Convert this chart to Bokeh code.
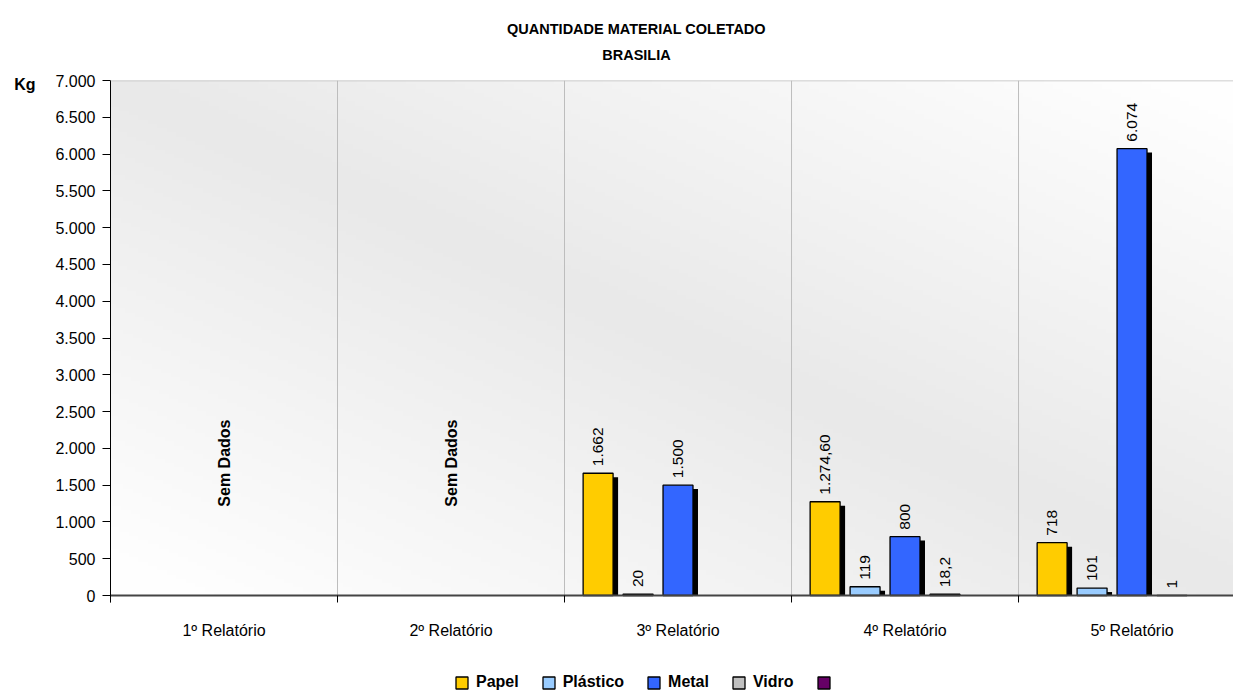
import math
import numpy as np
from bokeh.plotting import figure
from bokeh.models import (Range1d, FixedTicker, ColumnDataSource, Legend,
                          LegendItem, Span, LinearAxis)
from bokeh.core.properties import value
from bokeh.embed import file_html
from bokeh.resources import INLINE

# ---------------- data ----------------
categories = ["1º Relatório", "2º Relatório", "3º Relatório", "4º Relatório", "5º Relatório"]
series_names = ["Papel", "Plástico", "Metal", "Vidro", ""]
series_colors = ["#FFCC00", "#99CCFF", "#3366FF", "#C0C0C0", "#660066"]
nan = float("nan")
papel = [nan, nan, 1662, 1274.6, 718]
plastico = [nan, nan, 20, 119, 101]
metal = [nan, nan, 1500, 800, 6074]
vidro = [nan, nan, nan, 18.2, 1]
serie5 = [nan, nan, nan, nan, nan]
papel_lbl = ["", "", "1.662", "1.274,60", "718"]
plastico_lbl = ["", "", "20", "119", "101"]
metal_lbl = ["", "", "1.500", "800", "6.074"]
vidro_lbl = ["", "", "", "18,2", "1"]
serie5_lbl = ["", "", "", "", ""]
no_data_text = "Sem Dados"
no_data_index = [0, 1]
y_ticks = [0, 500, 1000, 1500, 2000, 2500, 3000, 3500, 4000, 4500, 5000, 5500, 6000, 6500, 7000]
y_tick_labels = ["0", "500", "1.000", "1.500", "2.000", "2.500", "3.000", "3.500",
                 "4.000", "4.500", "5.000", "5.500", "6.000", "6.500", "7.000"]
title_lines = ["QUANTIDADE MATERIAL COLETADO", "BRASILIA"]
y_unit = "Kg"

all_values = [papel, plastico, metal, vidro, serie5]
all_labels = [papel_lbl, plastico_lbl, metal_lbl, vidro_lbl, serie5_lbl]

FONT = "Liberation Sans"
YMAX = 7000
YMIN = -1332          # room below the value axis for category names and legend
XEND = 4.947
TITLE_X = 2.317
CAT_LABEL_Y = -476
TICK_LEN = 95

p = figure(width=1233, height=693, x_range=Range1d(0, XEND), y_range=Range1d(YMIN, YMAX),
           output_backend="svg", toolbar_location=None,
           min_border_left=110, min_border_right=0, min_border_top=80, min_border_bottom=0,
           background_fill_color="white", border_fill_color="white",
           outline_line_color=None)
p.xaxis.visible = False
p.xgrid.visible = False
p.ygrid.visible = False

# gradient background of the plot area (style only)
ny, nx = 120, 600
img = np.empty((ny, nx), dtype=np.uint32)
view = img.view(dtype=np.uint8).reshape((ny, nx, 4))
u = np.linspace(0, 1, nx)[None, :]
w = 1 - np.linspace(0, 1, ny)[:, None]   # 0 at top, 1 at bottom (row 0 is bottom)
d = np.abs(u - w)
val = (233 + (254 - 233) * np.clip(d * 1.1, 0, 1)).astype(np.uint8)
view[:, :, 0] = val
view[:, :, 1] = val
view[:, :, 2] = val
view[:, :, 3] = 255
p.image_rgba(image=[img], x=0, y=0, dw=5, dh=YMAX, level="image")

n = len(categories)
bounds_x = list(range(n + 1))

# vertical separators between categories
p.segment(x0=bounds_x[1:], y0=[0] * n, x1=bounds_x[1:], y1=[YMAX] * n,
          line_color="#BDBDBD", line_width=1)

# top border of plot area
p.add_layout(Span(location=YMAX, dimension="width", line_color="#BDBDBD", line_width=1.5))

# bars
spacing = 0.176
bar_w = 0.132
shadow_dx = 0.022
shadow_dy = 54
renderers = []
for i, (vals, lbls, color) in enumerate(zip(all_values, all_labels, series_colors)):
    xs = [k + 0.5 + (i - 2) * spacing for k in range(n)]
    sh_tops = [max(v - shadow_dy, 0) if not math.isnan(v) else nan for v in vals]
    p.vbar(x=[x + shadow_dx for x in xs], top=sh_tops, bottom=0, width=bar_w,
           fill_color="black", line_color=None)
    r = p.vbar(x=xs, top=list(vals), bottom=0, width=bar_w, fill_color=color,
               line_color="black", line_width=1.3)
    renderers.append(r)
    lx, ly, lt = [], [], []
    for x, v, t in zip(xs, vals, lbls):
        if t and not math.isnan(v):
            lx.append(x); ly.append(v); lt.append(t)
    if lx:
        src = ColumnDataSource(dict(x=lx, y=ly, text=lt))
        p.text(x="x", y="y", text="text", source=src, angle=math.pi / 2,
               text_align="left", text_baseline="middle", y_offset=-7,
               text_font=value(FONT), text_font_size="15.5px", text_color="black")

# category axis: line, boundary ticks, names
p.segment(x0=[0], y0=[0], x1=[XEND], y1=[0], line_color="#444444", line_width=2)
p.segment(x0=bounds_x, y0=[0] * (n + 1), x1=bounds_x, y1=[-TICK_LEN] * (n + 1),
          line_color="black", line_width=1)
src_cat = ColumnDataSource(dict(x=[k + 0.5 for k in range(n)], y=[CAT_LABEL_Y] * n,
                                text=categories))
p.text(x="x", y="y", text="text", source=src_cat, text_align="center",
       text_baseline="middle", text_font=value(FONT), text_font_size="16px",
       text_color="black")

# "Sem Dados"
src_nd = ColumnDataSource(dict(x=[k + 0.5 for k in no_data_index],
                               y=[1800] * len(no_data_index),
                               text=[no_data_text] * len(no_data_index)))
p.text(x="x", y="y", text="text", source=src_nd, angle=math.pi / 2,
       text_align="center", text_baseline="middle", text_font=value(FONT),
       text_font_size="16px", text_font_style="bold", text_color="black")

# value axis
yax = p.yaxis[0]
yax.bounds = (-TICK_LEN, YMAX)
yax.ticker = FixedTicker(ticks=y_ticks)
yax.major_label_overrides = {t: l for t, l in zip(y_ticks, y_tick_labels)}
yax.major_tick_out = 8
yax.major_tick_in = 0
yax.minor_tick_out = 0
yax.minor_tick_in = 0
yax.major_label_standoff = 7
yax.axis_line_color = "black"
yax.major_tick_line_color = "black"
yax.major_label_text_font = FONT
yax.major_label_text_font_size = "16px"
yax.major_label_text_color = "black"


def text_axis(ticks, labels, standoff, size, bold):
    ax = LinearAxis(ticker=FixedTicker(ticks=ticks),
                    major_label_overrides={t: l for t, l in zip(ticks, labels)})
    ax.axis_line_color = None
    ax.major_tick_line_color = None
    ax.minor_tick_line_color = None
    ax.major_tick_out = 0
    ax.major_tick_in = 0
    ax.minor_tick_out = 0
    ax.minor_tick_in = 0
    ax.major_label_standoff = standoff
    ax.major_label_text_font = FONT
    ax.major_label_text_font_size = size
    ax.major_label_text_font_style = "bold" if bold else "normal"
    ax.major_label_text_color = "black"
    ax.major_label_orientation = "horizontal"
    return ax


# titles (label-only axes above the plot area)
p.add_layout(text_axis([TITLE_X], [title_lines[1]], 18, "14.5px", True), "above")
p.add_layout(text_axis([TITLE_X], [title_lines[0]], 7, "14.5px", True), "above")
# unit label "Kg" at the top of the value axis
p.add_layout(text_axis([6945], [y_unit], 17, "16px", True), "left")

# legend
items = [LegendItem(label=(nm if nm else " "), renderers=[r])
         for nm, r in zip(series_names, renderers)]
legend = Legend(items=items, orientation="horizontal", location=(344, 2),
                margin=0, padding=0, spacing=22, label_standoff=7,
                glyph_width=15, glyph_height=15, label_height=15,
                background_fill_alpha=0, border_line_color=None,
                label_text_font=FONT, label_text_font_size="16px",
                label_text_font_style="bold", label_text_color="black")
p.add_layout(legend)

open("out.html", "w").write(file_html(p, INLINE))
